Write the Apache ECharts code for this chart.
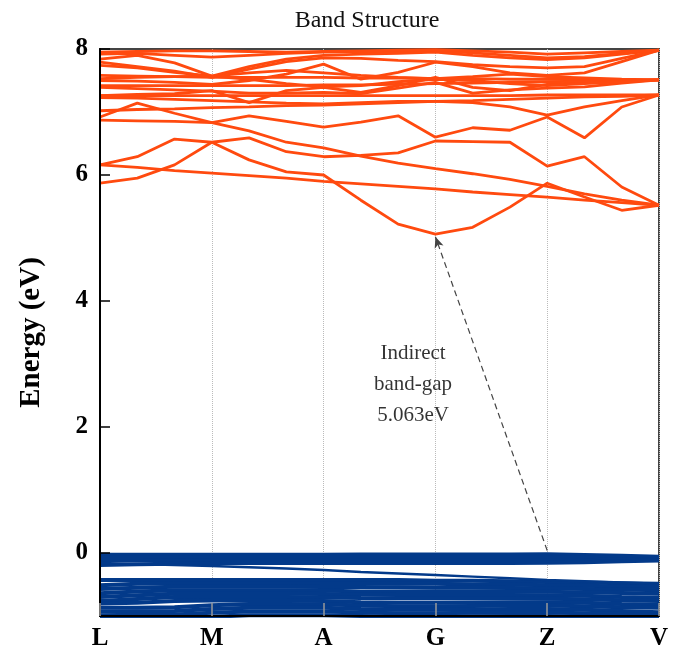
<!DOCTYPE html>
<html><head><meta charset="utf-8">
<script src="https://cdn.jsdelivr.net/npm/echarts@6/dist/echarts.min.js"></script>
<style>html,body{margin:0;padding:0;background:#fff}#c{width:692px;height:657px}</style>
</head><body><div id="c"></div>
<script>
// k-path: 16 points, high-symmetry labels every 3 points
const kLabels = ['L','M','A','G','Z','V'];
const kIndex = [0,1,2,3,4,5,6,7,8,9,10,11,12,13,14,15];
const yTicks = [0,2,4,6,8];

// conduction bands (eV)
const cb01 = [5.87,5.95,6.16,6.52,6.24,6.05,6.00,5.60,5.22,5.06,5.17,5.49,5.87,5.65,5.44,5.52];
const cb02 = [6.16,6.12,6.07,6.03,5.99,5.95,5.90,5.86,5.82,5.78,5.73,5.69,5.65,5.60,5.56,5.52];
const cb03 = [6.16,6.29,6.57,6.52,6.59,6.37,6.29,6.31,6.35,6.54,6.53,6.52,6.14,6.29,5.81,5.52];
const cb04 = [6.92,7.14,6.98,6.83,6.70,6.52,6.43,6.30,6.19,6.10,6.02,5.93,5.82,5.70,5.60,5.52];
const cb05 = [6.87,6.86,6.85,6.83,6.94,6.85,6.76,6.84,6.94,6.60,6.75,6.71,6.92,6.59,7.08,7.27];
const cb06 = [7.02,7.04,7.05,7.07,7.08,7.10,7.11,7.13,7.15,7.17,7.18,7.20,7.22,7.24,7.25,7.27];
const cb07 = [7.23,7.22,7.20,7.18,7.16,7.14,7.13,7.15,7.17,7.17,7.15,7.08,6.95,7.08,7.18,7.27];
const cb08 = [7.26,7.26,7.26,7.26,7.26,7.26,7.26,7.26,7.26,7.26,7.26,7.26,7.27,7.27,7.27,7.27];
const cb09 = [7.26,7.28,7.29,7.34,7.15,7.34,7.39,7.31,7.42,7.55,7.39,7.34,7.44,7.47,7.49,7.51];
const cb10 = [7.42,7.42,7.42,7.42,7.42,7.42,7.43,7.43,7.44,7.45,7.46,7.47,7.48,7.49,7.50,7.51];
const cb11 = [7.39,7.37,7.35,7.33,7.30,7.30,7.31,7.29,7.38,7.47,7.30,7.35,7.38,7.40,7.46,7.51];
const cb12 = [7.50,7.49,7.47,7.44,7.50,7.60,7.76,7.52,7.63,7.79,7.72,7.62,7.58,7.62,7.80,7.98];
const cb13 = [7.58,7.57,7.56,7.55,7.55,7.55,7.55,7.54,7.54,7.53,7.53,7.52,7.52,7.52,7.51,7.51];
const cb14 = [7.53,7.55,7.56,7.57,7.52,7.45,7.40,7.42,7.48,7.52,7.50,7.45,7.42,7.45,7.48,7.51];
const cb15 = [7.74,7.70,7.63,7.57,7.62,7.66,7.62,7.58,7.55,7.53,7.56,7.60,7.56,7.54,7.52,7.51];
const cb16 = [7.79,7.72,7.65,7.55,7.68,7.80,7.86,7.85,7.82,7.80,7.75,7.72,7.70,7.72,7.85,7.98];
const cb17 = [7.84,7.90,7.78,7.57,7.72,7.84,7.90,7.92,7.93,7.95,7.90,7.86,7.83,7.86,7.92,7.98];
const cb18 = [7.92,7.93,7.90,7.87,7.90,7.93,7.95,7.96,7.96,7.97,7.94,7.90,7.86,7.88,7.93,7.98];
const cb19 = [7.95,7.96,7.97,7.97,7.96,7.95,7.96,7.97,7.98,7.99,7.97,7.95,7.92,7.94,7.96,7.98];

// valence bands (eV): upper group
const vb01 = [-0.028,-0.028,-0.027,-0.026,-0.026,-0.026,-0.026,-0.025,-0.025,-0.025,-0.024,-0.022,-0.02,-0.03,-0.045,-0.06];
const vb02 = [-0.075,-0.075,-0.074,-0.073,-0.073,-0.073,-0.073,-0.073,-0.073,-0.073,-0.073,-0.073,-0.073,-0.075,-0.078,-0.08];
const vb03 = [-0.11,-0.11,-0.115,-0.12,-0.12,-0.12,-0.12,-0.12,-0.12,-0.12,-0.12,-0.12,-0.12,-0.115,-0.105,-0.10];
const vb04 = [-0.19,-0.18,-0.17,-0.16,-0.16,-0.16,-0.16,-0.16,-0.16,-0.16,-0.16,-0.16,-0.155,-0.145,-0.13,-0.12];
// thin band crossing the gap
const vb05 = [-0.16,-0.175,-0.19,-0.205,-0.225,-0.245,-0.27,-0.30,-0.325,-0.35,-0.375,-0.40,-0.43,-0.45,-0.47,-0.49];
// lower group
const vb06 = [-0.43,-0.43,-0.43,-0.43,-0.43,-0.43,-0.43,-0.43,-0.43,-0.44,-0.44,-0.45,-0.46,-0.47,-0.48,-0.49];
const vb07 = [-0.51,-0.49,-0.48,-0.48,-0.48,-0.48,-0.48,-0.48,-0.49,-0.49,-0.50,-0.50,-0.51,-0.52,-0.53,-0.54];
const vb08 = [-0.57,-0.55,-0.535,-0.535,-0.535,-0.535,-0.54,-0.54,-0.545,-0.55,-0.55,-0.555,-0.56,-0.57,-0.58,-0.59];
const vb09 = [-0.64,-0.61,-0.59,-0.59,-0.59,-0.59,-0.595,-0.61,-0.61,-0.61,-0.61,-0.61,-0.615,-0.625,-0.635,-0.645];
const vb10 = [-0.70,-0.67,-0.645,-0.645,-0.645,-0.645,-0.65,-0.66,-0.665,-0.665,-0.665,-0.665,-0.67,-0.68,-0.70,-0.71];
const vb11 = [-0.76,-0.73,-0.70,-0.70,-0.70,-0.70,-0.705,-0.715,-0.72,-0.72,-0.72,-0.72,-0.725,-0.735,-0.75,-0.76];
const vb12 = [-0.80,-0.79,-0.76,-0.755,-0.755,-0.755,-0.76,-0.78,-0.79,-0.79,-0.785,-0.78,-0.78,-0.79,-0.81,-0.82];
const vb13 = [-0.87,-0.87,-0.86,-0.83,-0.81,-0.81,-0.815,-0.835,-0.845,-0.845,-0.84,-0.835,-0.835,-0.845,-0.86,-0.87];
const vb14 = [-0.93,-0.925,-0.92,-0.89,-0.87,-0.87,-0.87,-0.89,-0.90,-0.90,-0.895,-0.89,-0.89,-0.90,-0.92,-0.94];
const vb15 = [-0.99,-0.98,-0.975,-0.95,-0.93,-0.93,-0.93,-0.945,-0.955,-0.955,-0.95,-0.945,-0.945,-0.955,-0.97,-0.99];
const vb16 = [-1.04,-1.03,-1.03,-1.01,-0.99,-0.99,-0.99,-1.00,-1.01,-1.01,-1.005,-1.00,-1.00,-1.01,-1.02,-1.04];

// indirect gap: VBM at Z, CBM at G
const vbmPoint = [12, 0.04];
const cbmPoint = [9, 5.02];
const gapText = 'Indirect\nband-gap\n5.063eV';
const gapTextPos = [8.4, 2.67];

const conductionBands = [cb01,cb02,cb03,cb04,cb05,cb06,cb07,cb08,cb09,cb10,cb11,cb12,cb13,cb14,cb15,cb16,cb17,cb18,cb19];
const valenceBands = [vb01,vb02,vb03,vb04,vb06,vb07,vb08,vb09,vb10,vb11,vb12,vb13,vb14,vb15,vb16];
const thinValence = [vb05];

const serif = "'Liberation Serif','Times New Roman',serif";
const toData = b => kIndex.map((k,i) => [k, b[i]]);
const series = [];
valenceBands.forEach(b => series.push({
  type:'line', data:toData(b), symbol:'none', silent:true, animation:false,
  lineStyle:{color:'#033a8a', width:4}, z:2
}));
thinValence.forEach(b => series.push({
  type:'line', data:toData(b), symbol:'none', silent:true, animation:false,
  lineStyle:{color:'#033a8a', width:2.5}, z:2
}));
conductionBands.forEach(b => series.push({
  type:'line', data:toData(b), symbol:'none', silent:true, animation:false,
  lineStyle:{color:'#ff4a0f', width:2.8}, z:3
}));
series.push({
  type:'scatter', data:[gapTextPos], symbolSize:0, silent:true, animation:false, z:6,
  label:{show:true, position:'inside', formatter:gapText, fontFamily:serif, fontSize:21, lineHeight:31, color:'#000'},
  markLine:{
    silent:true, animation:false, symbol:['none','arrow'], symbolSize:[7,11],
    lineStyle:{type:[6,4], color:'#444', width:1.2}, label:{show:false},
    data:[[{coord:vbmPoint},{coord:cbmPoint}]]
  }
});

const chart = echarts.init(document.getElementById('c'), null, {renderer:'canvas'});
chart.setOption({
  animation:false,
  backgroundColor:'#fff',
  title:{text:'Band Structure', left:362, top:4, textAlign:'center',
    textStyle:{fontFamily:serif, fontSize:24, fontWeight:'normal', color:'#111'}},
  grid:{left:100, right:33, top:49, bottom:41, show:true, borderColor:'#444', borderWidth:2, backgroundColor:'transparent'},
  xAxis:[{
    type:'value', min:0, max:15, interval:3, z:10,
    axisLine:{show:true, onZero:false, lineStyle:{color:'#000', width:2}},
    axisTick:{show:true, inside:true, length:13, lineStyle:{color:'#999', width:1.5}},
    axisLabel:{margin:10, fontFamily:serif, fontSize:25, fontWeight:'bold', color:'#000',
      formatter:v => kLabels[Math.round(v/3)]},
    splitLine:{show:false}
  },{
    type:'value', min:0, max:15, interval:3, z:0,
    axisLine:{show:false, onZero:false}, axisTick:{show:false}, axisLabel:{show:false},
    splitLine:{show:true, lineStyle:{type:'dotted', color:'#bbb', width:1}}
  }],
  yAxis:{
    type:'value', min:-1, max:8, z:10,
    name:'Energy (eV)', nameLocation:'middle', nameGap:54,
    nameTextStyle:{fontFamily:serif, fontSize:29, fontWeight:'bold', color:'#000'},
    axisLine:{show:true, onZero:false, lineStyle:{color:'#000', width:2}},
    axisTick:{show:true, inside:true, length:10, customValues:yTicks, lineStyle:{color:'#000', width:1.5}},
    axisLabel:{margin:12, fontFamily:serif, fontSize:25, fontWeight:'bold', color:'#000', customValues:yTicks},
    splitLine:{show:false}
  },
  series:series
});
</script></body></html>
